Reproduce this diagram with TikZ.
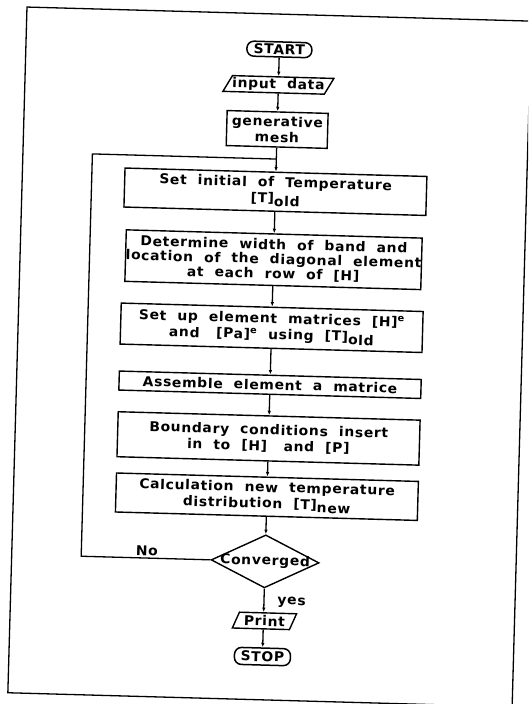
\documentclass[tikz,border=0pt]{standalone}
\usepackage{fontspec}
\setmainfont[FakeStretch=1.03,LetterSpace=5]{DejaVu Sans Bold}
\usetikzlibrary{arrows.meta,shapes.geometric}
\newcommand{\lowsub}[1]{\raisebox{-0.45ex}{#1}}
\begin{document}
\begin{tikzpicture}[x=1pt,y=-1pt,
  txt/.style={font=\fontsize{13.5}{16}\selectfont},
  box/.style={txt, draw, line width=1.4pt, minimum width=302pt, align=center, inner sep=0pt},
  term/.style={txt, draw, line width=1.5pt, rounded corners=7pt, minimum height=15pt, inner sep=0pt},
  io/.style={txt, draw, line width=1.4pt, trapezium, trapezium stretches=true, minimum height=16pt, inner sep=0pt},
  dec/.style={txt, draw, line width=1.4pt, diamond, inner sep=0pt},
  conn/.style={draw, line width=1.3pt},
  arr/.style={conn, -{Latex[length=4.5pt,width=3.5pt]}},
  lab/.style={txt}]
\useasboundingbox (0,0) rectangle (528,704);
\clip (0,0) rectangle (528,704);
\begin{scope}[rotate around={-1.6:(272,350)}, transform shape]
  \draw[line width=1.3pt] (17.5,14) rectangle (522,700);
  \node[term, minimum width=65pt] (start) at (271,49.3) {START};
  \node[io, trapezium left angle=55, trapezium right angle=125, minimum width=110pt] (inp) at (271,84.8) {input\ \ data};
  \node[box, minimum width=101pt, minimum height=35pt] (gen) at (271,129.4) {generative\\mesh};
  \coordinate (junc) at (271,159);
  \coordinate (loopc) at (87,159);
  \node[box, minimum height=39pt] (init) at (271,191.7) {Set\ \ initial\ \ of\ \ Temperature\\{}[T]\lowsub{old}};
  \node[box, minimum width=296pt, minimum height=51.5pt, font=\fontsize{13.5}{14.5}\selectfont] (det) at (271,259.7) {Determine\ \ width\ \ of\ \ band\ \ and\\location\ \ of\ \ the\ \ diagonal\ \ element\\at\ \ each\ \ row\ \ of\ \ [H]};
  \node[box, minimum height=41pt] (setup) at (271,327.8) {Set\ \ up\ \ element\ \ matrices\ \ [H]\textsuperscript{e}\\and\ \ \ [Pa]\textsuperscript{e}\ \ using\ \ [T]\lowsub{old}};
  \node[box, minimum height=19pt] (asm) at (271,384.8) {Assemble\ \ element\ \ a\ \ matrice};
  \node[box, minimum height=45pt] (bnd) at (271,438.5) {Boundary\ \ conditions\ \ insert\\in\ \ to\ \ [H]\ \ \ and\ \ [P]};
  \node[box, minimum height=39pt] (calc) at (271,496.8) {Calculation\ \ new\ \ temperature\\distribution\ \ [T]\lowsub{new}};
  \node[dec, minimum width=108pt, minimum height=53pt] (conv) at (271,561.5) {\makebox[0pt]{Converged}};
  \node[io, trapezium left angle=62, trapezium right angle=118, minimum width=64pt] (prn) at (272,621) {Print};
  \node[term, minimum width=56pt, minimum height=17pt] (stop) at (271,656.7) {STOP};
  \node[lab] (no) at (152.6,554.5) {No};
  \node[lab, anchor=west] (yes) at (281,602) {yes};
  \draw[arr] (start) -- (inp);
  \draw[arr] (inp) -- (gen);
  \draw[conn] (gen) -- (junc);
  \draw[arr] (junc) -- (init);
  \draw[arr] (init) -- (det);
  \draw[arr] (det) -- (setup);
  \draw[arr] (setup) -- (asm);
  \draw[arr] (asm) -- (bnd);
  \draw[arr] (bnd) -- (calc);
  \draw[arr] (calc) -- (conv);
  \draw[arr] (conv.south) -- (conv.south |- prn.north);
  \draw[arr] (prn.south -| stop.north) -- (stop);
  \draw[conn] (conv.west) -| (loopc) -- (junc);
\end{scope}
\end{tikzpicture}
\end{document}
